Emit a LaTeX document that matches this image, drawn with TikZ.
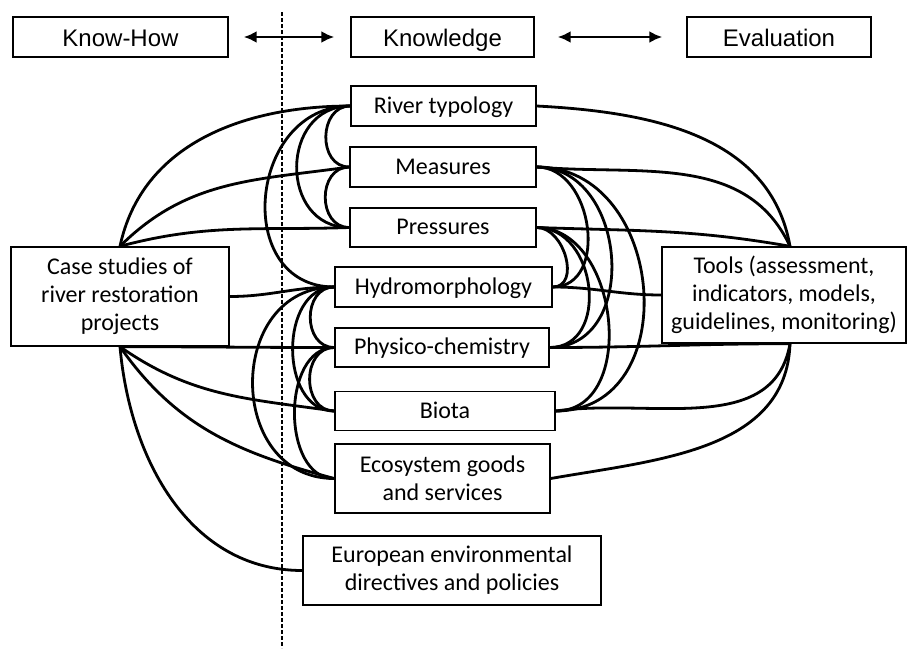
\documentclass[tikz,border=0pt]{standalone}
\usepackage{fontspec}
\setmainfont{Carlito}
\newfontfamily\headfont{Liberation Sans}
\usetikzlibrary{arrows.meta}

\tikzset{
  box/.style={draw, line width=0.7pt, inner sep=2pt, align=center,
    font=\fontsize{12}{14}\selectfont},
  one/.style={box, text height=9pt, text depth=2pt},
  head/.style={box, minimum height=20pt, text height=10pt, text depth=1pt,
    font=\headfont\fontsize{12}{14}\selectfont},
  link/.style={line width=1.4pt},
  dbl/.style={line width=1.4pt, {Latex[length=6.5pt,width=6pt]}-{Latex[length=6.5pt,width=6pt]}},
}

\begin{document}
\begin{tikzpicture}[x=0.5pt,y=-0.5pt]
\useasboundingbox (0,0) rectangle (909,648);

% top row
\node[head, minimum width=107.5pt] (knowhow) at (120.5,37) {Know-How};
\node[head, minimum width=91.5pt] (knowledge) at (442.5,37) {Knowledge};
\node[head, minimum width=92pt] (evaluation) at (779,37) {Evaluation};
\draw[dbl, shorten <=7.5pt, shorten >=8pt] (knowhow) -- (knowledge);
\draw[dbl, shorten <=11.5pt, shorten >=12pt] (knowledge) -- (evaluation);

% divider
\coordinate (dtop) at (282,12);
\coordinate (dbot) at (282,648);
\draw[line width=0.6pt, dash pattern=on 2pt off 1pt] (dtop) -- (dbot);

% knowledge boxes
\node[one, minimum width=92.5pt, minimum height=20pt] (river) at (443.5,106) {River typology};
\node[one, minimum width=93pt, minimum height=20pt] (measures) at (443,167) {Measures};
\node[one, minimum width=93pt, minimum height=19.5pt] (pressures) at (443,227.5) {Pressures};
\node[one, minimum width=108.5pt, minimum height=20pt] (hydro) at (443.5,287) {Hydromorphology};
\node[one, minimum width=107pt, minimum height=19.5pt] (physico) at (442,347.5) {Physico-chemistry};
\node[one, minimum width=110pt, minimum height=19.5pt] (biota) at (445,411) {Biota};
\node[box, minimum width=107.5pt, minimum height=34.5pt] (eco) at (442.5,478.5) {Ecosystem goods\\and services};
\node[box, minimum width=149pt, minimum height=34.5pt] (europe) at (452,570.5) {European environmental\\directives and policies};

% side boxes
\node[box, minimum width=109pt, minimum height=49.5pt] (cases) at (120,296.5) {Case studies of\\river restoration\\projects};
\node[box, minimum width=122pt, minimum height=48pt] (tools) at (784,295) {Tools (assessment,\\indicators, models,\\guidelines, monitoring)};
\coordinate (ttop) at ([xshift=3pt]tools.north);
\coordinate (tbot) at ([xshift=3pt]tools.south);

% know-how side
\draw[link] (cases.north) to[out=78,in=180] (river.west);
\draw[link] (cases.north) to[out=45,in=188] (measures.west);
\draw[link] (cases.north) to[out=15,in=182] (pressures.west);
\draw[link] (cases.east) to[out=0,in=180] (hydro.west);
\draw[link] (cases.south) to[out=0,in=180] (physico.west);
\draw[link] (cases.south) to[out=-35,in=172] (biota.west);
\draw[link] (cases.south) to[out=-55,in=165] (eco.west);
\draw[link] (cases.south) to[out=-85,in=180] (europe.west);

% evaluation side
\draw[link] (ttop) to[out=100,in=-3] (river.east);
\draw[link] (ttop) to[out=115,in=-5] (measures.east);
\draw[link] (ttop) to[out=170,in=-2] (pressures.east);
\draw[link] (hydro.east) to[out=0,in=180] (tools.west);
\draw[link] (tbot) to[out=180,in=0] (physico.east);
\draw[link] (tbot) to[out=-100,in=8] (biota.east);
\draw[link] (tbot) to[out=-92,in=10] (eco.east);

% links between knowledge boxes
\foreach \a/\b/\l in {river/measures/1.34, measures/pressures/1.36, river/pressures/1.49,
    river/hydro/1.44, hydro/physico/1.36, physico/biota/1.33, hydro/biota/1.15,
    physico/eco/1.04, hydro/eco/1.46}
  \draw[link] (\a.west) to[out=180,in=180,looseness=\l] (\b.west);
\foreach \a/\b/\l in {pressures/hydro/1.17, measures/hydro/1.2, pressures/physico/1.29,
    measures/physico/1.29, pressures/biota/1.15, measures/biota/1.36}
  \draw[link] (\a.east) to[out=0,in=0,looseness=\l] (\b.east);
\end{tikzpicture}
\end{document}
